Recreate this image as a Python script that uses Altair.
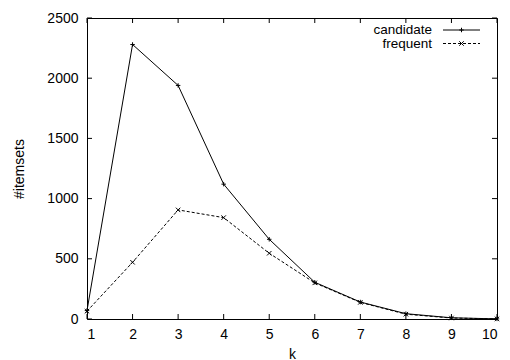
import altair as alt
import pandas as pd

# ---- data ----
k = [1, 2, 3, 4, 5, 6, 7, 8, 9, 10]
candidate = [70, 2280, 1940, 1120, 662, 305, 141, 44, 10, 1]
frequent = [65, 471, 906, 842, 546, 300, 138, 40, 8, 1]
series_names = ["candidate", "frequent"]
x_ticks = [1, 2, 3, 4, 5, 6, 7, 8, 9, 10]
y_ticks = [0, 500, 1000, 1500, 2000, 2500]

W, H = 410, 301
FONT = "Liberation Sans"
FS = 14
TICK = 5
PLUS = "M-1,0L1,0M0,-1L0,1"
CROSS = "M-1,-1L1,1M-1,1L1,-1"

df_c = pd.DataFrame({"k": k, "itemsets": candidate})
df_f = pd.DataFrame({"k": k, "itemsets": frequent})

xs = alt.Scale(domain=[1, 10], nice=False, zero=False)
ys = alt.Scale(domain=[0, 2500], nice=False)

x_axis = alt.Axis(values=x_ticks, ticks=False, domain=False, grid=False,
                  labelPadding=8, titlePadding=6, format="d",
                  labelFont=FONT, labelFontSize=FS, titleFont=FONT,
                  titleFontSize=FS, titleFontWeight="normal",
                  labelColor="black", titleColor="black")
y_axis = alt.Axis(values=y_ticks, ticks=False, domain=False, grid=False,
                  labelPadding=9, titlePadding=20, format="d",
                  labelFont=FONT, labelFontSize=FS, titleFont=FONT,
                  titleFontSize=FS, titleFontWeight="normal",
                  labelColor="black", titleColor="black")

X = alt.X("k:Q", scale=xs, axis=x_axis, title="k")
Y = alt.Y("itemsets:Q", scale=ys, axis=y_axis, title="#itemsets")

line_c = alt.Chart(df_c).mark_line(color="black", strokeWidth=1).encode(x=X, y=Y)
pts_c = alt.Chart(df_c).mark_point(shape=PLUS, size=20, color="black",
                                   strokeWidth=1, filled=False, opacity=1).encode(x=X, y=Y)
line_f = alt.Chart(df_f).mark_line(color="black", strokeWidth=1,
                                   strokeDash=[3, 2]).encode(x=X, y=Y)
pts_f = alt.Chart(df_f).mark_point(shape=CROSS, size=20, color="black",
                                   strokeWidth=1, filled=False, opacity=1).encode(x=X, y=Y)

# inward ticks on all four sides (mirror ticks)
xt = pd.DataFrame({"k": x_ticks})
yt = pd.DataFrame({"itemsets": y_ticks})
tick_b = alt.Chart(xt).mark_rule(color="black", strokeWidth=1).encode(
    x=X, y=alt.value(H), y2=alt.value(H - TICK))
tick_t = alt.Chart(xt).mark_rule(color="black", strokeWidth=1).encode(
    x=X, y=alt.value(0), y2=alt.value(TICK))
tick_l = alt.Chart(yt).mark_rule(color="black", strokeWidth=1).encode(
    y=Y, x=alt.value(0), x2=alt.value(TICK))
tick_r = alt.Chart(yt).mark_rule(color="black", strokeWidth=1).encode(
    y=Y, x=alt.value(W), x2=alt.value(W - TICK))

# gnuplot-style key, top right
legend_layers = []
for name, dash, shape, yy in [(series_names[0], [1, 0], PLUS, 12),
                              (series_names[1], [3, 2], CROSS, 25.5)]:
    ldf = pd.DataFrame({"label": [name]})
    legend_layers.append(alt.Chart(ldf).mark_text(
        align="right", baseline="middle", font=FONT, fontSize=13.5, color="black"
    ).encode(text="label:N", x=alt.value(345), y=alt.value(yy)))
    legend_layers.append(alt.Chart(ldf).mark_rule(
        color="black", strokeWidth=1, strokeDash=dash
    ).encode(x=alt.value(356), x2=alt.value(393), y=alt.value(yy)))
    legend_layers.append(alt.Chart(ldf).mark_point(
        shape=shape, size=20, color="black", strokeWidth=1, filled=False, opacity=1
    ).encode(x=alt.value(374.5), y=alt.value(yy)))

chart = alt.layer(
    line_c, line_f, pts_c, pts_f, tick_b, tick_t, tick_l, tick_r, *legend_layers
).properties(
    width=W, height=H,
    autosize=alt.AutoSizeParams(type="none"),
    padding={"left": 87, "top": 18, "right": 13, "bottom": 41},
    background="white",
).configure_view(stroke="black", strokeWidth=1)

chart.save("out.html", embed_options={"renderer": "svg", "actions": False})
